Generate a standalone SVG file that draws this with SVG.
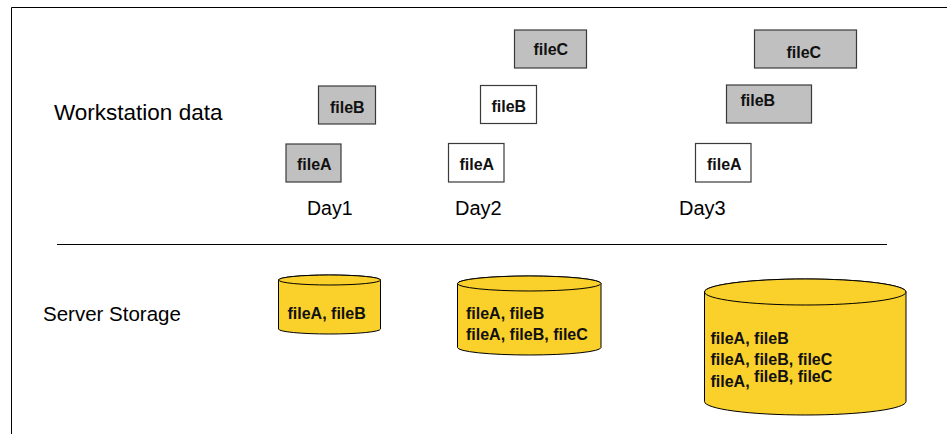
<svg xmlns="http://www.w3.org/2000/svg" width="947" height="434" viewBox="0 0 947 434">
  <style>
    .lbl { font-family: "Liberation Sans", Arial, sans-serif; fill: #000; }
    .file { font-family: "Liberation Sans", Arial, sans-serif; font-weight: bold; font-size: 16px; fill: #111; }
    .gray { fill: #c0c0c0; stroke: #3a3a3a; stroke-width: 1.2; }
    .white { fill: #ffffff; stroke: #3a3a3a; stroke-width: 1.2; }
    .cyl { fill: #fad02a; stroke: #000; stroke-width: 1; }
    .rule { stroke: #000; stroke-width: 1; fill: none; }
  </style>
  <rect x="0" y="0" width="947" height="434" fill="#ffffff"/>

  <g id="frame">
    <line class="rule" x1="11.5" y1="7.5" x2="947" y2="7.5"/>
    <line class="rule" x1="11.5" y1="7.5" x2="11.5" y2="434"/>
    <line class="rule" x1="57" y1="244.5" x2="887" y2="244.5" stroke="#222"/>
  </g>

  <g id="labels">
    <text class="lbl" x="54" y="120" font-size="22.5">Workstation data</text>
    <text class="lbl" x="43" y="321" font-size="20.5">Server Storage</text>
    <text class="lbl" x="307" y="214.5" font-size="19.5">Day1</text>
    <text class="lbl" x="455" y="215" font-size="20">Day2</text>
    <text class="lbl" x="679" y="214.5" font-size="20">Day3</text>
  </g>

  <g id="day1-fileB">
    <rect class="gray" x="318.5" y="86" width="57" height="38"/>
    <text class="file" x="330" y="112.5">fileB</text>
  </g>
  <g id="day1-fileA">
    <rect class="gray" x="286" y="144" width="55" height="38"/>
    <text class="file" x="297" y="169.5">fileA</text>
  </g>

  <g id="day2-fileC">
    <rect class="gray" x="514.5" y="30" width="72" height="38"/>
    <text class="file" x="533.5" y="54.5">fileC</text>
  </g>
  <g id="day2-fileB">
    <rect class="white" x="480.5" y="85.5" width="56" height="38"/>
    <text class="file" x="491.5" y="112">fileB</text>
  </g>
  <g id="day2-fileA">
    <rect class="white" x="448.5" y="143.5" width="55.5" height="38.5"/>
    <text class="file" x="459.5" y="170">fileA</text>
  </g>

  <g id="day3-fileC">
    <rect class="gray" x="754.5" y="30" width="102" height="38"/>
    <text class="file" x="786.5" y="57.5">fileC</text>
  </g>
  <g id="day3-fileB">
    <rect class="gray" x="726.5" y="85" width="85" height="38"/>
    <text class="file" x="740.5" y="106">fileB</text>
  </g>
  <g id="day3-fileA">
    <rect class="white" x="695.5" y="143.5" width="55.5" height="38.5"/>
    <text class="file" x="707" y="170">fileA</text>
  </g>

  <g id="storage-day1">
    <path class="cyl" d="M278.5,280 L278.5,329 A51,5 0 0 0 380.5,329 L380.5,280 A51,5 0 0 0 278.5,280 Z"/>
    <ellipse class="cyl" cx="329.5" cy="280" rx="51" ry="5"/>
    <text class="file" x="287.5" y="318.5">fileA, fileB</text>
  </g>

  <g id="storage-day2">
    <path class="cyl" d="M457.5,283.5 L457.5,347.5 A71.75,7.5 0 0 0 601,347.5 L601,283.5 A71.75,7.5 0 0 0 457.5,283.5 Z"/>
    <ellipse class="cyl" cx="529.25" cy="283.5" rx="71.75" ry="7.5"/>
    <text class="file" x="466" y="319">fileA, fileB</text>
    <text class="file" x="466" y="339.5">fileA, fileB, fileC</text>
  </g>

  <g id="storage-day3">
    <path class="cyl" d="M704.5,292 L704.5,401.5 A100.75,13.5 0 0 0 906,401.5 L906,292 A100.75,13 0 0 0 704.5,292 Z"/>
    <ellipse class="cyl" cx="805.25" cy="292" rx="100.75" ry="13"/>
    <text class="file" x="710.5" y="343.5">fileA, fileB</text>
    <text class="file" x="710.5" y="364.5">fileA, fileB, fileC</text>
    <text class="file" x="710.5" y="386.5">fileA, <tspan dy="-4.5">fileB, fileC</tspan></text>
  </g>
</svg>
